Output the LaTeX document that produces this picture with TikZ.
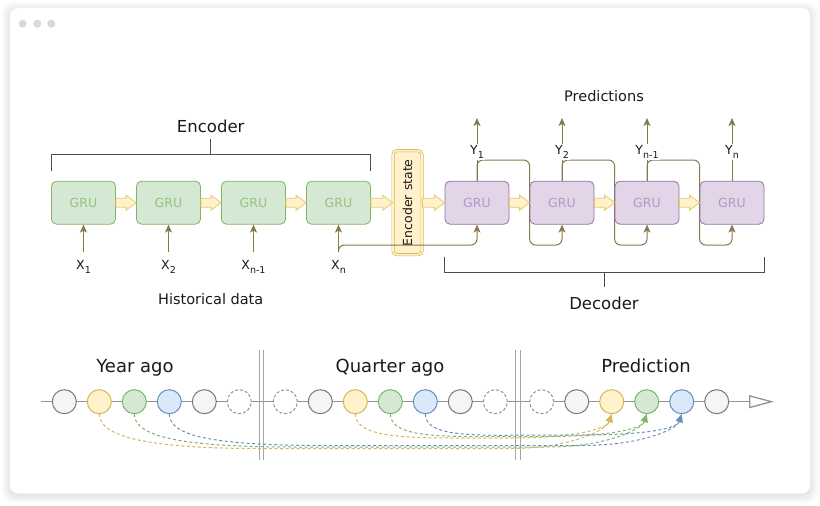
\documentclass[tikz,border=0pt]{standalone}
\usepackage{fontspec}
\setmainfont{DejaVu Sans}
\usetikzlibrary{arrows.meta,calc}
\definecolor{gfill}{HTML}{D5E8D4}
\definecolor{gline}{HTML}{82B366}
\definecolor{gtext}{HTML}{97C27F}
\definecolor{pfill}{HTML}{E1D5E7}
\definecolor{pline}{HTML}{9673A6}
\definecolor{ptext}{HTML}{B896C8}
\definecolor{yfill}{HTML}{FFF2CC}
\definecolor{yline}{HTML}{D6B656}
\definecolor{hline}{HTML}{E8C96A}
\definecolor{bfill}{HTML}{DAE8FC}
\definecolor{bline}{HTML}{6C8EBF}
\definecolor{olive}{HTML}{857A4C}
\definecolor{gyfill}{HTML}{F5F5F5}
\definecolor{gyline}{HTML}{7A7A7A}
\definecolor{ink}{HTML}{1A1A1A}
\definecolor{brk}{HTML}{4D4D4D}
\newcommand\sbs[1]{\raisebox{-0.32em}{\fontsize{9.5}{10}\selectfont #1}}
\newcommand\harrow[2]{\filldraw[harr] ($(#1.east)+(0,-4.5)$) -- ($(#2.west)+(-10,-4.5)$) -- ($(#2.west)+(-10,-7.5)$) -- (#2.west) -- ($(#2.west)+(-10,7.5)$) -- ($(#2.west)+(-10,4.5)$) -- ($(#1.east)+(0,4.5)$) -- cycle;}
\newcommand\lnk[5]{\draw[lk=#4] (#1.south) .. controls ($(#1.south)+(0,25)$) and ($(#1.south |- 0,#3)+(60,0)$) .. ($(#1.south |- 0,#3)+(#5,0)$) -- ($(#2.south |- 0,#3)+(-100,0)$) .. controls ($(#2.south |- 0,#3)+(-40,0)$) and ($(#2.south)+(-5,15)$) .. (#2.south);}
\tikzset{
  gru/.style={draw=#1line, fill=#1fill, text=#1text, rounded corners=5pt, minimum width=64pt, minimum height=43pt, inner sep=0pt, line width=0.8pt, font=\fontsize{12.5}{14}\selectfont},
  lab/.style={text=ink, inner sep=0pt, font=\fontsize{12.5}{14}\selectfont},
  big/.style={text=ink, inner sep=0pt, font=\fontsize{16.5}{18}\selectfont},
  huge/.style={text=ink, inner sep=0pt, font=\fontsize{18}{20}\selectfont},
  oarr/.style={draw=olive, line width=1pt, -{Stealth[length=8pt,width=7pt,inset=2pt]}},
  fb/.style={draw=olive, line width=1pt, rounded corners=6pt, -{Stealth[length=8pt,width=7pt,inset=2pt]}},
  harr/.style={draw=hline, fill=yfill, line width=0.8pt},
  brkt/.style={draw=brk, line width=1pt},
  circ/.style={circle, minimum size=24pt, inner sep=0pt, line width=1pt, draw=#1line, fill=#1fill},
  dcirc/.style={circle, minimum size=24pt, inner sep=0pt, line width=1pt, draw=gyline!80, fill=white, dash pattern=on 3pt off 2pt},
  lk/.style={draw=#1line, line width=1pt, dash pattern=on 3pt off 2.5pt, -{Triangle[length=8pt,width=7pt,fill=#1line]}},
  sepl/.style={draw=gray!70, line width=1pt},
}
\begin{document}
\begin{tikzpicture}[x=1pt,y=-1pt]
\useasboundingbox (0,0) rectangle (820,506);
% card with shadow
\foreach \i in {1,...,8}
  \fill[black, opacity=0.012, rounded corners=10pt] (10-\i,8-\i+2) rectangle (810+\i,493.3+\i+2);
\fill[white, rounded corners=8pt] (10,8) rectangle (810,493.3);
\foreach \x in {22.7,37.3,51.3} \fill[gray!30] (\x,23.7) circle (4pt);

% encoder boxes
\foreach \i/\x in {1/83.5,2/168.5,3/253.5,4/338.5}
  \node[gru=g] (e\i) at (\x,202.7) {GRU};
% encoder state
\node[draw=yline, double=yfill, double distance=1.6pt, line width=0.7pt, fill=yfill, rounded corners=4pt, minimum width=29pt, minimum height=104pt, inner sep=0pt] (es) at (407.5,202.7) {};
\node[lab, rotate=90] (est) at (es.center) {Encoder state};
% decoder boxes positions (drawn later)
\path (477,202.7) coordinate (c1) (562,202.7) coordinate (c2) (647,202.7) coordinate (c3) (732,202.7) coordinate (c4);

% feedback lines (behind decoder boxes)
\path (c1) node[gru=p, draw=none, fill=none, text opacity=0] (d1) {GRU}
      (c2) node[gru=p, draw=none, fill=none, text opacity=0] (d2) {GRU}
      (c3) node[gru=p, draw=none, fill=none, text opacity=0] (d3) {GRU}
      (c4) node[gru=p, draw=none, fill=none, text opacity=0] (d4) {GRU};
\coordinate (xin4) at (338.5,252);
\draw[fb] (xin4) -- (338.5,245) -- (d1.south |- 0,245) -- (d1.south);
\foreach \a/\b in {1/2,2/3,3/4}
  \draw[fb] (d\a.north) -- (d\a.north |- 0,160) -- (d\b.west |- 0,160) -- (d\b.west |- 0,245) -- (d\b.south |- 0,245) -- (d\b.south);
% output arrows
\foreach \i/\s in {1/1,2/2,3/n-1,4/n} {
  \coordinate (yout\i) at ($(d\i.north |- 0,118)$);
  \draw[oarr] (d\i.north) -- (yout\i);
  \node[lab, fill=white, inner xsep=1pt, inner ysep=1.2pt, anchor=base] (y\i) at ($(d\i.north |- 0,154.3)$) {Y\sbs{\s}};
}
% decoder boxes visible
\foreach \i in {1,2,3,4}
  \node[gru=p] at (d\i) {GRU};

% inputs
\foreach \i/\s in {1/1,2/2,3/n-1,4/n} {
  \coordinate (xi\i) at ($(e\i.south |- 0,252)$);
  \draw[oarr] (xi\i) -- (e\i.south);
  \node[lab, anchor=base] (x\i) at ($(e\i.south |- 0,269.3)$) {X\sbs{\s}};
}

% hollow arrows
\harrow{e1}{e2}
\harrow{e2}{e3}
\harrow{e3}{e4}
\harrow{e4}{es}
\harrow{es}{d1}
\harrow{d1}{d2}
\harrow{d2}{d3}
\harrow{d3}{d4}

% brackets
\draw[brkt] (51.7,170.7) -- (51.7,154) -- (370.7,154) -- (370.7,170.7);
\draw[brkt] (210.7,154) -- (210.7,139);
\draw[brkt] (444.3,256.7) -- (444.3,272.3) -- (764,272.3) -- (764,256.7);
\draw[brkt] (604,272.3) -- (604,286.7);

\node[big, anchor=base] (tenc) at (210.7,132) {Encoder};
\node[lab, font=\fontsize{14.5}{16}\selectfont, anchor=base] (thist) at (210.7,304.3) {Historical data};
\node[lab, font=\fontsize{14.5}{16}\selectfont, anchor=base] (tpred) at (604,101) {Predictions};
\node[big, anchor=base] (tdec) at (604,309.5) {Decoder};

% timeline
\coordinate (t0) at (41,401.7);
\coordinate (t1) at (774,401.7);
\draw[draw=gray!85, line width=1.3pt, -{Triangle[open, length=25pt, width=13pt]}] (t0) -- (t1);
\draw[sepl] (259.3,350) -- (259.3,460);
\draw[sepl] (263.3,350) -- (263.3,460);
\draw[sepl] (515.7,350) -- (515.7,460);
\draw[sepl] (520,350) -- (520,460);

\node[circ=gy] (a0) at (64.3,401.7) {};
\node[circ=y] (a1) at (99.3,401.7) {};
\node[circ=g] (a2) at (134.3,401.7) {};
\node[circ=b] (a3) at (169.3,401.7) {};
\node[circ=gy] (a4) at (204.3,401.7) {};
\node[dcirc] (a5) at (239.3,401.7) {};

\node[dcirc] (q0) at (285.3,401.7) {};
\node[circ=gy] (q1) at (320.3,401.7) {};
\node[circ=y] (q2) at (355.3,401.7) {};
\node[circ=g] (q3) at (390.3,401.7) {};
\node[circ=b] (q4) at (425.3,401.7) {};
\node[circ=gy] (q5) at (460.3,401.7) {};
\node[dcirc] (q6) at (495.3,401.7) {};

\node[dcirc] (p0) at (541.7,401.7) {};
\node[circ=gy] (p1) at (576.7,401.7) {};
\node[circ=y] (p2) at (611.7,401.7) {};
\node[circ=g] (p3) at (646.7,401.7) {};
\node[circ=b] (p4) at (681.7,401.7) {};
\node[circ=gy] (p5) at (716.7,401.7) {};

\lnk{a1}{p2}{448.5}{y}{160}
\lnk{a2}{p3}{447}{g}{160}
\lnk{a3}{p4}{445.5}{b}{160}
\lnk{q2}{p2}{438}{y}{120}
\lnk{q3}{p3}{436.5}{g}{120}
\lnk{q4}{p4}{435}{b}{120}

\node[huge, anchor=base] (tya) at (135,372) {Year ago};
\node[huge, anchor=base] (tqa) at (390,372) {Quarter ago};
\node[huge, anchor=base] (tpr) at (646,372) {Prediction};
\end{tikzpicture}
\end{document}
